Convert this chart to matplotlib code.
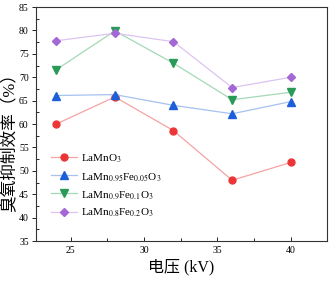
import matplotlib.pyplot as plt
from matplotlib.ticker import MultipleLocator

plt.rcParams['font.family'] = ['Liberation Serif', 'Noto Sans CJK SC']
plt.rcParams['mathtext.fontset'] = 'stix'

# data
voltage = [24, 28, 32, 36, 40]
lamno3 = [60.0, 65.8, 58.6, 48.0, 51.8]
fe005 = [66.1, 66.3, 64.0, 62.2, 64.8]
fe01 = [71.6, 79.9, 73.0, 65.2, 66.8]
fe02 = [77.8, 79.4, 77.6, 67.8, 70.0]

labels = [r'LaMnO$_3$',
          r'LaMn$_{0.95}$Fe$_{0.05}$O$_3$',
          r'LaMn$_{0.9}$Fe$_{0.1}$O$_3$',
          r'LaMn$_{0.8}$Fe$_{0.2}$O$_3$']
series = [lamno3, fe005, fe01, fe02]
markers = ['o', '^', 'v', 'D']
msizes = [5, 5.5, 5.5, 4.5]
mcolors = ['#ec3636', '#1c5fd8', '#2a9a58', '#a467d6']
lcolors = ['#f5a3a3', '#a5c2f0', '#a3d9b6', '#dcc4f0']

fig, ax = plt.subplots(figsize=(3.3, 2.82), dpi=100)
fig.subplots_adjust(left=0.108, right=0.99, top=0.975, bottom=0.145)

for y, lab, m, ms, mc, lc in zip(series, labels, markers, msizes, mcolors, lcolors):
    ax.plot(voltage, y, color=lc, lw=0.9, marker=m, ms=ms,
            markerfacecolor=mc, markeredgecolor=mc, label=lab)

ax.set_xlim(22.6, 42.45)
ax.set_ylim(35, 85)
ax.xaxis.set_major_locator(MultipleLocator(5))
ax.xaxis.set_minor_locator(MultipleLocator(2.5))
ax.yaxis.set_major_locator(MultipleLocator(5))
ax.yaxis.set_minor_locator(MultipleLocator(2.5))
ax.tick_params(axis='x', which='both', direction='in', labelsize=7, width=0.6)
ax.tick_params(axis='x', which='major', length=3)
ax.tick_params(axis='x', which='minor', length=2)
ax.tick_params(axis='y', which='major', direction='out', length=3, width=0.6,
               labelsize=7, pad=2)
ax.tick_params(axis='y', which='minor', direction='in', length=2, width=0.6)
for s in ax.spines.values():
    s.set_linewidth(0.8)
    s.set_color('#333333')

ax.set_xlabel('电压 (kV)', fontsize=11.5, labelpad=3)
ax.set_ylabel('臭氧抑制效率（%）', fontsize=12)
ax.yaxis.set_label_coords(-0.058, 0.44)

ax.legend(loc='upper left', bbox_to_anchor=(0.027, 0.413), frameon=False,
          fontsize=8, handlelength=2.3, labelspacing=0.55, borderpad=0.2,
          handletextpad=0.4)

fig.savefig('out.png', dpi=100)
